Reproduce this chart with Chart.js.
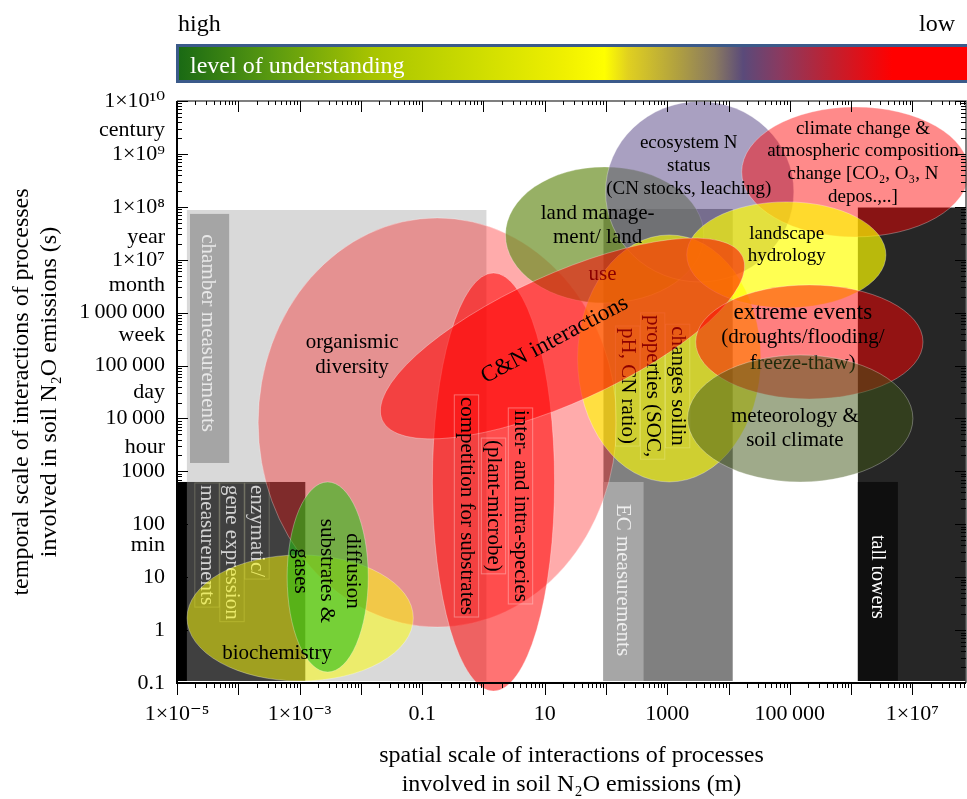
<!DOCTYPE html>
<html>
<head>
<meta charset="utf-8">
<script src="https://cdn.jsdelivr.net/npm/chart.js@4.4.1/dist/chart.umd.min.js"></script>
<style>
  html, body { margin: 0; padding: 0; background: #fff; }
  #chart { display: block; }
</style>
</head>
<body>
<canvas id="chart" width="967" height="799"></canvas>
<script>
// spatial scale in m, temporal scale in s
const xRange = [1e-5, 7.5e7];
const yRange = [0.1, 1e10];

const xTickValues = [1e-5, 1e-3, 0.1, 10, 1000, 1e5, 1e7];
const xTickLabels = ["1×10⁻⁵", "1×10⁻³", "0.1", "10", "1000", "100\u2009000", "1×10⁷"];

const yTickValues = [0.1, 1, 10, 100, 1000, 1e4, 1e5, 1e6, 1e7, 1e8, 1e9, 1e10];
const yTickLabels = ["0.1", "1", "10", "100", "1000", "10\u2009000", "100\u2009000", "1\u2009000\u2009000",
  "1×10⁷", "1×10⁸", "1×10⁹", "1×10¹⁰"];

// time unit words printed between the decade labels
const timeUnitNames = ["min", "hour", "day", "week", "month", "year", "century"];
const timeUnitValues = [40, 2900, 31600, 3.8e5, 3.3e6, 2.7e7, 2.8e9];

// measurement ranges (grey boxes) and the label strips inside them
const methodNames = ["chamber measurements", "enzymatic/ gene expression measurements", "EC measurements", "tall towers"];
const methodXMin = [1.45e-5, 1e-5, 91, 1.29e6];
const methodXMax = [1.12, 1.24e-3, 11700, 7.5e7];
const methodYMin = [0.1, 0.1, 0.1, 0.1];
const methodYMax = [8.7e7, 630, 9.1e7, 9.7e7];
const stripXMin = [1.63e-5, 1e-5, 91, 1.29e6];
const stripXMax = [7.1e-5, 1.45e-5, 411, 5.8e6];
const stripYMin = [1440, 0.1, 0.1, 0.1];
const stripYMax = [7.35e7, 630, 630, 630];

// process regions (ellipses), drawn in this order
const processNames = ["organismic diversity", "biochemistry", "diffusion substrates & gases",
  "inter- and intra-species competition", "land management/ land use", "ecosystem N status",
  "climate change", "changes soil properties", "landscape hydrology", "C&N interactions",
  "extreme events", "meteorology & soil climate"];
const processXMin = [2.11e-4, 1.46e-5, 6.27e-4, 0.147, 2.29, 98.5, 16400, 34.4, 2080, 0.0115, 2910, 2150];
const processXMax = [149, 0.0718, 0.0132, 14.5, 3940, 1.16e5, 8.4e7, 33600, 3.7e6, 33100, 1.49e7, 1.02e7];
const processYMin = [1.14, 0.109, 0.161, 0.0706, 1.52e6, 3.8e6, 2.7e7, 631, 1.23e6, 20000, 23400, 631];
const processYMax = [6.17e7, 26.3, 631, 5.62e6, 5.68e8, 9.8e9, 7.7e9, 2.94e7, 1.24e8, 5.27e6, 3.34e6, 1.58e5];
const processTilt = [0, 0, 0, 0, 0, 0, 0, 0, 0, -24.4, 0, 0];

const serif = "'Liberation Serif', 'Times New Roman', 'DejaVu Serif', serif";

const methodColors = ["#d9d9d9", "#404040", "#808080", "#262626"];
const stripColors = ["#a5a5a5", "#000000", "#a6a6a6", "#0f0f0f"];

const processColors = [
  "rgba(255,0,0,0.33)",
  "rgba(255,255,0,0.5)",
  "rgba(40,190,20,0.6)",
  "rgba(255,0,0,0.55)",
  "rgba(107,142,35,0.7)",
  "rgba(112,96,152,0.6)",
  "rgba(255,0,0,0.46)",
  "rgba(255,255,0,0.62)",
  "rgba(255,255,0,0.68)",
  "rgba(255,0,0,0.55)",
  "rgba(255,0,0,0.5)",
  "rgba(64,85,21,0.5)"
];

// text anchors in data units
const methodLabels = [
  { lines: ["chamber measurements"], x: 3.2e-5, y: 4.1e5, rot: 90, color: "#e8e8e8" },
  { lines: ["enzymatic/", "gene expression", "measurements"], x: 7.9e-5, y: 553, rot: 90, gap: 25,
    align: "left", color: "#d2d2d2", box: "rgba(200,200,160,0.3)" },
  { lines: ["EC measurements"], x: 187, y: 8.85, rot: 90, color: "#eeeeee" },
  { lines: ["tall towers"], x: 2.64e6, y: 10.1, rot: 90, color: "#ffffff", size: 20 }
];

const processLabels = [
  { lines: ["organismic", "diversity"], x: 7.2e-3, y: 1.58e5, gap: 25 },
  { lines: ["biochemistry"], x: 4.3e-4, y: 0.369 },
  { lines: ["diffusion", "substrates &", "gases"], x: 2.72e-3, y: 13.1, gap: 26, rot: 90 },
  { lines: ["inter- and intra-species", "(plant-microbe)", "competition for substrates"], x: 1.46, y: 222,
    gap: 27, rot: 90, box: "rgba(255,225,225,0.4)" },
  { lines: ["land manage-", "ment/ land"], x: 73, y: 4.5e7, gap: 24, before: 9 },
  { lines: ["use"], x: 88, y: 5.2e6, before: 9 },
  { lines: ["ecosystem N", "status", "(CN stocks, leaching)"], x: 2240, y: 5.9e8, gap: 23, size: 19 },
  { lines: ["climate change &", "atmospheric composition", "change [CO₂, O₃, N", "depos.,..]"],
    x: 1.56e6, y: 6.8e8, gap: 22.7, size: 19 },
  { lines: ["changes soilin", "properties (SOC,", "pH, CN ratio)"], x: 577, y: 41000, gap: 25, rot: 90,
    before: 9, box: "rgba(255,255,200,0.25)" },
  { lines: ["landscape", "hydrology"], x: 8.9e4, y: 1.9e7, gap: 22, size: 19 },
  { lines: ["C&N interactions"], x: 14.5, y: 3.05e5, rot: -28, size: 23 },
  { lines: ["extreme events"], x: 1.63e5, y: 9.9e5, size: 23, before: 11 },
  { lines: ["(droughts/flooding/", "freeze-thaw)"], x: 1.63e5, y: 1.89e5, gap: 26, before: 11 },
  { lines: ["meteorology &", "soil climate"], x: 1.21e5, y: 6600, gap: 24 }
];

const barStops = [
  [0, "#1a6a14"], [0.118, "#5a9a10"], [0.246, "#a8c400"], [0.375, "#cddc00"], [0.49, "#f0f000"],
  [0.54, "#ffff00"], [0.57, "#e0d020"], [0.633, "#b0a040"], [0.68, "#8a7a60"], [0.716, "#5a4a7a"],
  [0.763, "#8a3a60"], [0.828, "#c02030"], [0.905, "#ff0000"], [1, "#ff0000"]
];

const yAll = yTickValues.map((v, i) => ({ value: v, label: yTickLabels[i] }))
  .concat(timeUnitValues.map((v, i) => ({ value: v, label: timeUnitNames[i] })))
  .sort((a, b) => a.value - b.value);

function boxPixels(xs, ys, x0, x1, y0, y1) {
  const l = xs.getPixelForValue(x0), r = xs.getPixelForValue(x1);
  const t = ys.getPixelForValue(y1), b = ys.getPixelForValue(y0);
  return { l, r, t, b };
}

function drawLabel(ctx, xs, ys, lab) {
  const size = lab.size || 21;
  const gap = lab.gap || 25;
  const n = lab.lines.length;
  ctx.save();
  ctx.translate(xs.getPixelForValue(lab.x), ys.getPixelForValue(lab.y));
  ctx.rotate(((lab.rot || 0) * Math.PI) / 180);
  ctx.font = size + "px " + serif;
  ctx.textAlign = lab.align || "center";
  ctx.textBaseline = "middle";
  lab.lines.forEach((t, i) => {
    const off = (i - (n - 1) / 2) * gap;
    if (lab.box) {
      const w = ctx.measureText(t).width;
      const x0 = lab.align === "left" ? 0 : -w / 2;
      ctx.strokeStyle = lab.box;
      ctx.lineWidth = 1;
      ctx.strokeRect(x0 - 2, off - size * 0.58, w + 4, size * 1.16);
    }
    ctx.fillStyle = lab.color || "#000";
    ctx.fillText(t, 0, off);
  });
  ctx.restore();
}

const schemePlugin = {
  id: "scheme",
  beforeDatasetsDraw(chart) {
    const { ctx } = chart;
    const xs = chart.scales.x, ys = chart.scales.y;

    methodNames.forEach((name, i) => {
      let p = boxPixels(xs, ys, methodXMin[i], methodXMax[i], methodYMin[i], methodYMax[i]);
      ctx.fillStyle = methodColors[i];
      ctx.fillRect(p.l, p.t, p.r - p.l, p.b - p.t - 2);
      p = boxPixels(xs, ys, stripXMin[i], stripXMax[i], stripYMin[i], stripYMax[i]);
      ctx.fillStyle = stripColors[i];
      ctx.fillRect(p.l, p.t, p.r - p.l, p.b - p.t - (stripYMin[i] <= yRange[0] ? 2 : 0));
    });
    methodLabels.forEach((lab) => drawLabel(ctx, xs, ys, lab));

    processNames.forEach((name, i) => {
      processLabels.filter((lab) => lab.before === i).forEach((lab) => drawLabel(ctx, xs, ys, lab));
      const p = boxPixels(xs, ys, processXMin[i], processXMax[i], processYMin[i], processYMax[i]);
      ctx.save();
      ctx.beginPath();
      ctx.ellipse((p.l + p.r) / 2, (p.t + p.b) / 2, (p.r - p.l) / 2, (p.b - p.t) / 2,
        (processTilt[i] * Math.PI) / 180, 0, Math.PI * 2);
      ctx.fillStyle = processColors[i];
      ctx.fill();
      ctx.strokeStyle = "rgba(255,255,255,0.3)";
      ctx.lineWidth = 1;
      ctx.stroke();
      ctx.restore();
    });
    processLabels.filter((lab) => lab.before === undefined).forEach((lab) => drawLabel(ctx, xs, ys, lab));
  },
  afterDraw(chart) {
    const { ctx, chartArea: a } = chart;
    const xs = chart.scales.x, ys = chart.scales.y;
    ctx.save();

    // frame
    ctx.strokeStyle = "#555";
    ctx.lineWidth = 1.5;
    ctx.beginPath();
    ctx.moveTo(a.left, a.top); ctx.lineTo(a.right, a.top); ctx.lineTo(a.right, a.bottom);
    ctx.stroke();
    ctx.strokeStyle = "#000";
    ctx.lineWidth = 2;
    ctx.beginPath();
    ctx.moveTo(a.left, a.top); ctx.lineTo(a.left, a.bottom); ctx.lineTo(a.right, a.bottom);
    ctx.stroke();

    // tick marks: decades long, 2..9 short
    ctx.lineWidth = 1;
    ctx.strokeStyle = "#000";
    ctx.beginPath();
    for (let e = -5; e <= 8; e++) {
      for (let m = 1; m <= 9; m++) {
        const v = m * Math.pow(10, e);
        if (v < xRange[0] * 0.999 || v > xRange[1]) continue;
        const p = Math.round(xs.getPixelForValue(v)) + 0.5;
        const len = m === 1 ? 12 : 5;
        ctx.moveTo(p, a.bottom); ctx.lineTo(p, a.bottom + len);
        ctx.moveTo(p, a.top); ctx.lineTo(p, a.top + len - 1);
      }
    }
    for (let e = -1; e <= 10; e++) {
      for (let m = 1; m <= 9; m++) {
        const v = m * Math.pow(10, e);
        if (v < yRange[0] * 0.999 || v > yRange[1] * 1.001) continue;
        const p = Math.round(ys.getPixelForValue(v)) + 0.5;
        const len = m === 1 ? 11 : 5;
        ctx.moveTo(a.left, p); ctx.lineTo(a.left + len, p);
        ctx.moveTo(a.right, p); ctx.lineTo(a.right - len, p);
      }
    }
    ctx.stroke();

    // level of understanding bar
    const bl = a.left - 1, bt = 44, bb = 83, br = chart.width + 2;
    ctx.fillStyle = "#3b5a8a";
    ctx.fillRect(bl, bt, br - bl, bb - bt);
    const g = ctx.createLinearGradient(bl + 3, 0, chart.width, 0);
    barStops.forEach((s) => g.addColorStop(s[0], s[1]));
    ctx.fillStyle = g;
    ctx.fillRect(bl + 3, bt + 3, br - bl - 3, bb - bt - 6);
    ctx.font = "24px " + serif;
    ctx.textBaseline = "middle";
    ctx.fillStyle = "#ffffff";
    ctx.textAlign = "left";
    ctx.fillText("level of understanding", bl + 14, 67);
    ctx.fillStyle = "#000";
    ctx.fillText("high", bl + 2, 25);
    ctx.textAlign = "right";
    ctx.fillText("low", 955, 25);
    ctx.restore();
  }
};

const chart = new Chart(document.getElementById("chart"), {
  type: "scatter",
  data: { datasets: [] },
  options: {
    responsive: false,
    animation: false,
    devicePixelRatio: 1,
    layout: { padding: { top: 101, right: 1, bottom: 0, left: 0 } },
    plugins: { legend: { display: false }, tooltip: { enabled: false } },
    scales: {
      x: {
        type: "logarithmic",
        min: xRange[0],
        max: xRange[1],
        bounds: "data",
        grid: { display: false, drawTicks: false },
        border: { display: false },
        afterBuildTicks: (s) => { s.ticks = xTickValues.map((v) => ({ value: v })); },
        afterFit: (s) => { s.height = 116; },
        ticks: {
          autoSkip: false,
          maxRotation: 0,
          padding: 18,
          color: "#000",
          font: { family: serif, size: 22 },
          callback: (v, i) => xTickLabels[i]
        },
        title: {
          display: true,
          text: ["spatial scale of interactions of processes", "involved in soil N₂O emissions (m)"],
          color: "#000",
          font: { family: serif, size: 24, lineHeight: 1.2 },
          padding: { top: 0, bottom: 0 }
        }
      },
      y: {
        type: "logarithmic",
        min: yRange[0],
        max: yRange[1],
        bounds: "data",
        grid: { display: false, drawTicks: false },
        border: { display: false },
        afterBuildTicks: (s) => { s.ticks = yAll.map((t) => ({ value: t.value })); },
        afterFit: (s) => { s.width = 177; },
        ticks: {
          autoSkip: false,
          padding: 12,
          color: "#000",
          font: { family: serif, size: 22 },
          callback: (v, i) => yAll[i].label
        },
        title: {
          display: true,
          text: ["temporal scale of interactions of processes", "involved in soil N₂O emissions (s)"],
          color: "#000",
          font: { family: serif, size: 24, lineHeight: 1.2 },
          padding: { top: 7, bottom: 0 }
        }
      }
    }
  },
  plugins: [schemePlugin]
});
</script>
</body>
</html>
